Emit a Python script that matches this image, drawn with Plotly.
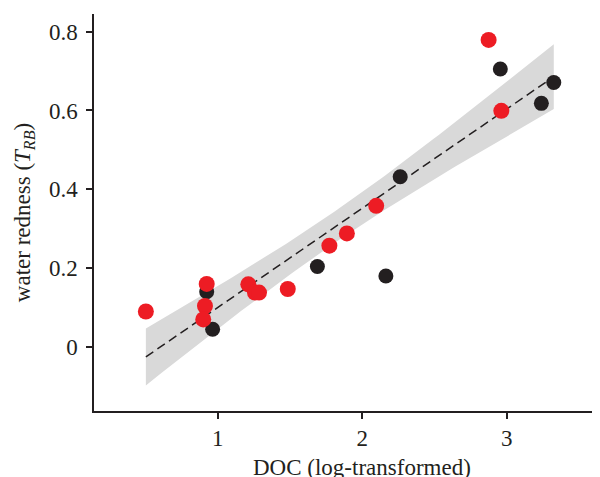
import numpy as np
import plotly.graph_objects as go

# Data
red_x = [0.503, 0.924, 0.912, 0.900, 1.212, 1.258, 1.286, 1.485, 1.773, 1.894, 2.097, 2.875, 2.963]
red_y = [0.090, 0.160, 0.104, 0.070, 0.159, 0.138, 0.138, 0.147, 0.257, 0.288, 0.358, 0.779, 0.599]
black_x = [0.924, 0.965, 1.690, 2.164, 2.263, 2.956, 3.240, 3.326]
black_y = [0.140, 0.045, 0.204, 0.180, 0.432, 0.705, 0.618, 0.671]
x_ticks = [1, 2, 3]
y_ticks = [0, 0.2, 0.4, 0.6, 0.8]

# Linear fit with 95% confidence band
xa = np.array(red_x + black_x)
ya = np.array(red_y + black_y)
n = len(xa)
b, a = np.polyfit(xa, ya, 1)
resid = ya - (a + b * xa)
s = np.sqrt(np.sum(resid ** 2) / (n - 2))
t = 2.093  # t(0.975, df=19)
xg = np.linspace(xa.min(), xa.max(), 100)
yg = a + b * xg
se = s * np.sqrt(1 / n + (xg - xa.mean()) ** 2 / np.sum((xa - xa.mean()) ** 2))
lo = yg - t * se
hi = yg + t * se

fig = go.Figure()
fig.add_trace(go.Scatter(
    x=np.concatenate([xg, xg[::-1]]), y=np.concatenate([hi, lo[::-1]]),
    fill="toself", fillcolor="#D9D9D9", line=dict(width=0), mode="lines",
    hoverinfo="skip", showlegend=False))
fig.add_trace(go.Scatter(x=xg, y=yg, mode="lines",
                         line=dict(color="#231F20", width=1.5, dash="9px,5px"),
                         showlegend=False))
fig.add_trace(go.Scatter(x=black_x, y=black_y, mode="markers",
                         marker=dict(color="#231F20", size=15, line=dict(width=0)),
                         showlegend=False))
fig.add_trace(go.Scatter(x=red_x, y=red_y, mode="markers",
                         marker=dict(color="#ED1C24", size=16, line=dict(width=0)),
                         showlegend=False))

font = dict(family="Liberation Serif", size=23, color="#231F20")
fig.update_layout(
    width=592, height=469,
    margin=dict(l=86, r=2, t=6, b=66),
    paper_bgcolor="white", plot_bgcolor="white",
    font=font,
    xaxis=dict(range=[0.144, 3.632], tickvals=x_ticks, showgrid=False, zeroline=False,
               showline=True, linecolor="#231F20", linewidth=1.5,
               ticks="outside", ticklen=6, tickwidth=1.5, tickcolor="#231F20"),
    yaxis=dict(range=[-0.1624, 0.8447], tickvals=y_ticks, showgrid=False, zeroline=False,
               showline=True, linecolor="#231F20", linewidth=1.5,
               ticks="outside", ticklen=6, tickwidth=1.5, tickcolor="#231F20",
               ticklabelstandoff=4,
               title=dict(text="water redness (<i>T</i><sub><i>RB</i></sub>)",
                          font=dict(size=23), standoff=12)),
    annotations=[dict(text="DOC (log-transformed)", xref="paper", yref="paper",
                      x=0.532, y=-0.142, xanchor="center", yanchor="middle",
                      showarrow=False, font=dict(size=23))],
)
fig.write_html("out.html")
